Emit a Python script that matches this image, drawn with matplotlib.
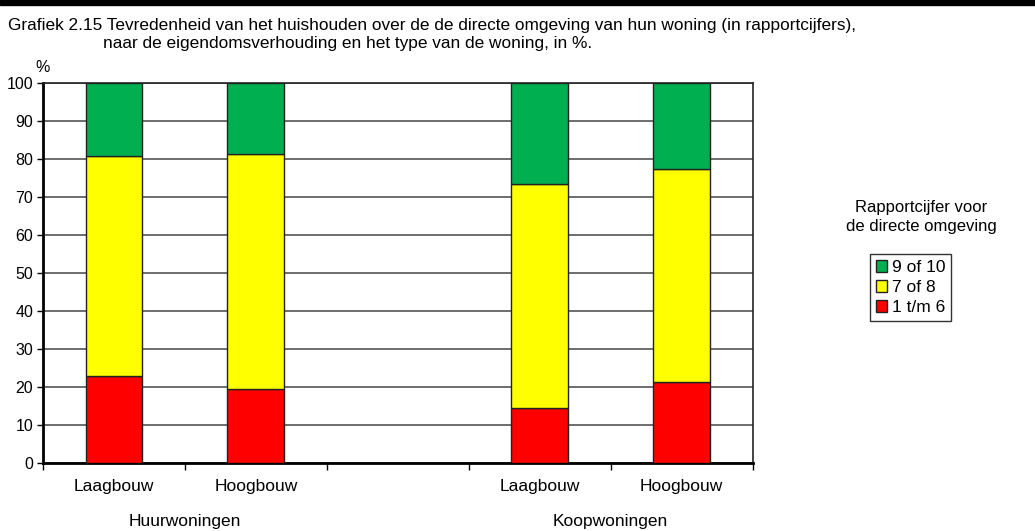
import numpy as np
import matplotlib.pyplot as plt
from matplotlib.patches import Rectangle

plt.rcParams['font.family'] = ['Liberation Sans', 'DejaVu Sans']

# Data (percentages)
groups = ["Huurwoningen", "Koopwoningen"]
types = ["Laagbouw", "Hoogbouw"]
score_low = [22.7, 19.4, 14.5, 21.3]     # 1 t/m 6
score_mid = [57.9, 61.8, 58.9, 56.1]     # 7 of 8
score_high = [19.4, 18.8, 26.6, 22.6]    # 9 of 10
series_labels = ["1 t/m 6", "7 of 8", "9 of 10"]
colors = ["#ff0000", "#ffff00", "#00b050"]

# bar positions: 2 types per group, one empty slot between the groups
xpos = []
for g in range(len(groups)):
    for t in range(len(types)):
        xpos.append(g * (len(types) + 1) + t)
xpos = np.array(xpos)

fig = plt.figure(figsize=(10.35, 5.31), dpi=100)
ax = fig.add_axes([0.0415, 0.1286, 0.6857, 0.7157])

bottom = np.zeros(len(xpos))
handles = []
for vals, lab, col in zip([score_low, score_mid, score_high], series_labels, colors):
    b = ax.bar(xpos, vals, width=0.4, bottom=bottom, color=col,
               edgecolor="#222222", linewidth=1.0, label=lab, zorder=3)
    handles.append(b)
    bottom += np.array(vals)

ax.set_xlim(-0.5, xpos.max() + 0.5)
ax.set_ylim(0, 100)
ax.set_yticks(np.arange(0, 101, 10))
ax.yaxis.grid(True, color="#555555", linewidth=1.2, zorder=0)
ax.tick_params(axis="y", labelsize=11.5, length=4, width=1, pad=3, direction="out")

# x ticks on slot boundaries, labels drawn as text
ax.set_xticks(np.arange(-0.5, xpos.max() + 0.6, 1.0))
ax.set_xticklabels([])
ax.tick_params(axis="x", length=5, width=1, direction="out")

for sp in ["left", "bottom"]:
    ax.spines[sp].set_linewidth(2)
    ax.spines[sp].set_color("black")
for sp in ["right", "top"]:
    ax.spines[sp].set_linewidth(1.2)
    ax.spines[sp].set_color("#222222")

for i, x in enumerate(xpos):
    ax.text(x, -6.2, types[i % len(types)], ha="center", va="center", fontsize=12.5)
for g, name in enumerate(groups):
    cx = g * (len(types) + 1) + (len(types) - 1) / 2
    ax.text(cx, -15.5, name, ha="center", va="center", fontsize=12.5)

ax.text(-0.5, 102, "%", ha="center", va="bottom", fontsize=11.5)

# title
fig.text(0.008, 0.952, "Grafiek 2.15 Tevredenheid van het huishouden over de de directe omgeving van hun woning (in rapportcijfers),",
         ha="left", va="center", fontsize=12.4)
fig.text(0.0995, 0.918, "naar de eigendomsverhouding en het type van de woning, in %.",
         ha="left", va="center", fontsize=12.4)

# thick line at the top
fig.patches.append(Rectangle((0, 1 - 5 / 531), 1, 5 / 531, transform=fig.transFigure,
                             color="black", zorder=10))

# legend with title outside the box
fig.text(0.89, 0.592, "Rapportcijfer voor\nde directe omgeving", ha="center", va="center",
         fontsize=12, linespacing=1.35)
leg = fig.legend(handles[::-1], series_labels[::-1], loc="upper left",
                 bbox_to_anchor=(0.8405, 0.522), fontsize=12.5, frameon=True,
                 fancybox=False, edgecolor="black", handlelength=0.65, handleheight=0.65,
                 handletextpad=0.25, labelspacing=0.3, borderpad=0.35, borderaxespad=0)
leg.get_frame().set_linewidth(1.0)

fig.savefig("out.png", dpi=100)
